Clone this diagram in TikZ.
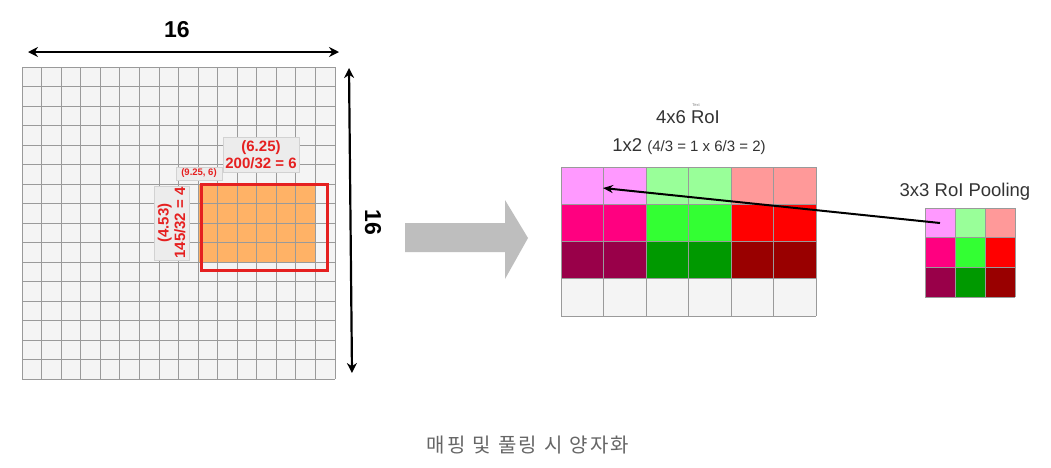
\documentclass[tikz,border=0pt]{standalone}
\usepackage{fontspec}
\setmainfont{Liberation Sans}
\newfontfamily\krfont[LetterSpace=12]{Noto Sans CJK KR}
\usetikzlibrary{arrows.meta}
\definecolor{cellgray}{HTML}{F4F4F4}
\definecolor{gridln}{HTML}{9A9A9A}
\definecolor{orangefill}{HTML}{FFB266}
\definecolor{lblred}{HTML}{E52020}
\definecolor{lblbox}{HTML}{ECECEC}
\definecolor{bigarrow}{HTML}{BEBEBE}
\definecolor{pA}{HTML}{FF99FF}
\definecolor{gA}{HTML}{99FF99}
\definecolor{rA}{HTML}{FF9999}
\definecolor{pB}{HTML}{FF0080}
\definecolor{gB}{HTML}{33FF33}
\definecolor{rB}{HTML}{FF0000}
\definecolor{pC}{HTML}{990049}
\definecolor{gC}{HTML}{009900}
\definecolor{rC}{HTML}{990000}
\definecolor{txtgray}{HTML}{333333}
\definecolor{capgray}{HTML}{666666}
\begin{document}
\begin{tikzpicture}[x=1pt,y=-1pt,
  gridline/.style={draw=gridln,line width=0.8pt},
  cellline/.style={draw=gridln,line width=0.8pt},
  lblnode/.style={fill=lblbox,draw=gray!35,line width=0.4pt,text=lblred,align=center,inner sep=1pt,
     font=\bfseries\fontsize{15}{16.5}\selectfont},
  dimarrow/.style={line width=2.2pt,{Stealth[length=10pt,width=10pt]}-{Stealth[length=10pt,width=10pt]}},
  dimlabel/.style={font=\bfseries\fontsize{23}{26}\selectfont},
  title/.style={text=txtgray,font=\fontsize{18.5}{21}\selectfont,inner sep=0pt}]
\useasboundingbox (0,0) rectangle (1051,467);
\fill[white] (0,0) rectangle (1051,467);

% ---- left 16x16 grid ----
\fill[cellgray] (22,67) rectangle (335,379);
\fill[orangefill] ({22+9*19.5625},{67+6*19.5}) rectangle ({22+15*19.5625},{67+10*19.5});
\foreach \i in {0,...,16}{
  \draw[gridline] ({22+\i*19.5625},67) -- ({22+\i*19.5625},379);
  \draw[gridline] (22,{67+\i*19.5}) -- (335,{67+\i*19.5});
}
\draw[lblred,line width=3pt] (201,184) rectangle (327,270);

\node[lblnode,minimum width=76pt,minimum height=35pt] (lblw) at (261,154.5) {(6.25)\\200/32 = 6};
\node[lblnode,minimum width=46pt,minimum height=13pt,font=\bfseries\fontsize{9.5}{11}\selectfont] (lblxy) at (199,173.5) {(9.25, 6)};
\node[lblnode,rotate=90,minimum width=74pt,minimum height=35pt] (lblh) at (171.5,223) {(4.53)\\145/32 = 4};

% dimension arrows
\coordinate (topL) at (28,52);
\coordinate (topR) at (339,52);
\draw[dimarrow] (topL) -- (topR);
\node[dimlabel] (top16) at (177,30) {16};
\coordinate (rgtT) at (349,68);
\coordinate (rgtB) at (352,373);
\draw[dimarrow] (rgtT) -- (rgtB);
\node[dimlabel,rotate=-90] (rgt16) at (373,222) {16};

% ---- big gray arrow ----
\fill[bigarrow] (405,223) -- (505,223) -- (505,200) -- (528,238) -- (505,279) -- (505,252) -- (405,252) -- cycle;

% ---- 4x6 RoI grid ----
\foreach \r/\ca/\cb/\cc in {0/pA/gA/rA,1/pB/gB/rB,2/pC/gC/rC,3/cellgray/cellgray/cellgray}{
  \fill[\ca] ({561+0*42.5},{167+\r*37.25}) rectangle ({561+2*42.5},{167+(\r+1)*37.25});
  \fill[\cb] ({561+2*42.5},{167+\r*37.25}) rectangle ({561+4*42.5},{167+(\r+1)*37.25});
  \fill[\cc] ({561+4*42.5},{167+\r*37.25}) rectangle ({561+6*42.5},{167+(\r+1)*37.25});
}
\foreach \i in {0,...,6}{
  \draw[cellline] ({561+\i*42.5},167) -- ({561+\i*42.5},316);
}
\foreach \j in {0,...,4}{
  \draw[cellline] (561,{167+\j*37.25}) -- (816,{167+\j*37.25});
}
\coordinate (roi11) at (603,188);

\node[title] (roiT) at (688,117) {4x6 RoI};
\node[text=gray,font=\fontsize{4}{4}\selectfont,inner sep=0pt] (tiny) at (696,105) {Text};
\node[title] (roiS) at (689,147) {1x2 {\fontsize{15}{18}\selectfont (4/3 = 1 x 6/3 = 2)}};

% ---- 3x3 pooling grid ----
\foreach \r/\ca/\cb/\cc in {0/pA/gA/rA,1/pB/gB/rB,2/pC/gC/rC}{
  \fill[\ca] ({925+0*30},{208+\r*29.7}) rectangle ({925+1*30},{208+(\r+1)*29.7});
  \fill[\cb] ({925+1*30},{208+\r*29.7}) rectangle ({925+2*30},{208+(\r+1)*29.7});
  \fill[\cc] ({925+2*30},{208+\r*29.7}) rectangle ({925+3*30},{208+(\r+1)*29.7});
}
\foreach \i in {0,...,3}{
  \draw[cellline,line width=0.6pt] ({925+\i*30},208) -- ({925+\i*30},297.1);
  \draw[cellline,line width=0.6pt] (925,{208+\i*29.7}) -- (1015,{208+\i*29.7});
}
\coordinate (pool11) at (940,223);
\node[title] (poolT) at (965,192) {3x3 RoI Pooling};

\draw[line width=2pt,-{Stealth[length=10pt,width=8pt]}] (pool11) -- (roi11);

% caption
\node[text=capgray,font=\krfont\fontsize{20}{23}\selectfont,inner sep=0pt] (cap) at (528,445) {매핑 및 풀링 시 양자화};
\end{tikzpicture}
\end{document}
